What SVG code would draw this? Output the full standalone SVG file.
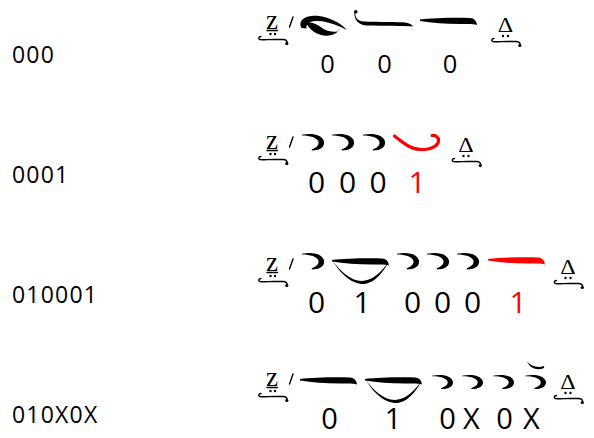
<svg xmlns="http://www.w3.org/2000/svg" xmlns:xlink="http://www.w3.org/1999/xlink" width="594" height="438" viewBox="0 0 594 438">
<style>
.lbl{font-family:"Open Sans","Noto Sans",sans-serif;font-size:23px;letter-spacing:1.2px;fill:#000}
.dg{font-family:"Open Sans","Noto Sans",sans-serif;fill:#000;text-anchor:middle}
.red{fill:#ff0000}
.z{font-family:"Liberation Serif","DejaVu Serif",serif;font-size:27px;fill:#000}
.dl{font-family:"Liberation Serif","DejaVu Serif",serif;font-size:20px;fill:#000;text-anchor:middle}
.ink{fill:#000}
.thin{fill:none;stroke:#000;stroke-width:1.4;stroke-linecap:round}
</style>
<defs>
<path id="curl" class="thin" d="M3,18.5 C0.5,18.5 0,21 2,21.5 C6,22 10,21.5 16,21.5 L25,21.5 C28,21.5 29.5,23 29,25.5"/>
<g id="startmark">
<text class="z" x="8" y="10.5">z</text>
<path class="thin" d="M9,12.5 L19.5,12.5"/>
<circle class="ink" cx="12.5" cy="16" r="1.2"/>
<circle class="ink" cx="17" cy="16" r="1.2"/>
<path class="thin" d="M35,-1 L31.5,9"/>
<use xlink:href="#curl"/>
<circle class="ink" cx="28.8" cy="25.5" r="1.6"/>
</g>
<g id="endmark">
<text class="dl" transform="scale(1.2,1)" x="0" y="12">Δ</text>
<circle class="ink" cx="-2.5" cy="16" r="1.2"/>
<circle class="ink" cx="2.5" cy="16" r="1.2"/>
<use xlink:href="#curl" transform="translate(-14.5,0)"/>
<circle class="ink" cx="14.3" cy="25.5" r="1.6"/>
</g>
<path id="line" d="M0,1 C12,-0.5 35,-1 50,-0.5 C54,-0.2 56.5,2 57,6.5 C53,5 48,5.5 40,5.5 C25,5.5 12,4.5 0,2.5 Z"/>
<path id="hook" d="M0,0.8 C9,-1 20,0 22,7.5 C23,13.5 17,16.5 10,16.5 C9.5,16 9.5,15.5 10.5,15 C14.5,13.5 17,11 16.5,8 C15.5,3.5 8,1.4 0,1.4 Z"/>
<g id="bowl">
<use xlink:href="#line"/>
<path d="M1,2.5 C6,10 15,23 29,25 C42,26 51,13 56,4 C50,11 42,21.5 30,22 C18,22 8,11 1,2.5 Z"/>
</g>
</defs>

<g id="labels">
<text class="lbl" x="12" y="63">000</text>
<text class="lbl" x="12" y="183">0001</text>
<text class="lbl" x="12" y="303">010001</text>
<text class="lbl" x="12" y="423">010X0X</text>
</g>

<g id="row1">
<use xlink:href="#startmark" transform="translate(258,18)"/>
<path class="ink" d="M301.5,28 C297,19 308,14.5 319,16 C331,17.5 341,23.5 347,30 C338,25.5 328,21.5 319,21 C311,20.5 305.5,23 306.5,28.5 Z"/>
<path class="ink" d="M306,23 C310,21.5 316,23.5 320,26.5 C324,30 330,32.5 337,31.5 C339,31 340,29.5 339.5,28.5 C338.5,33 332,36.5 324,35.5 C316,34.5 310,30 306,23 Z"/>
<path class="ink" d="M356,11 C354,17 357,21 364,21.5 C380,22 398,22 405,22.5 C409,23 412,24.5 413,26.5 C404,26 384,26 366,25.5 C359,25 353.5,20 354.5,11.5 Z"/>
<circle class="ink" cx="355.8" cy="11.8" r="1.8"/>
<use xlink:href="#line" transform="translate(420,18.5)"/>
<use xlink:href="#endmark" transform="translate(505.5,20)"/>
<g font-size="25.5">
<text class="dg" x="327.5" y="73">0</text>
<text class="dg" x="384.5" y="73">0</text>
<text class="dg" x="450" y="73">0</text>
</g>
</g>

<g id="row2">
<use xlink:href="#startmark" transform="translate(258,138)"/>
<use xlink:href="#hook" transform="translate(302,134)"/>
<use xlink:href="#hook" transform="translate(332,134)"/>
<use xlink:href="#hook" transform="translate(363,134)"/>
<path d="M394.5,136 C403,142.5 410,149.5 421,149.5 C431,149.5 438.5,146 438.5,140.5 C438.5,137 435.5,135 432,135.5" fill="none" stroke="#ff0000" stroke-width="3.2" stroke-linecap="round"/>
<path class="red" d="M394,135 C402,141 410,148 421,148 L421,151 C410,151 402,143 394,135 Z"/>
<use xlink:href="#endmark" transform="translate(466,140)"/>
<g font-size="30">
<text class="dg" x="316.5" y="193">0</text>
<text class="dg" x="347.5" y="193">0</text>
<text class="dg" x="378" y="193">0</text>
<text class="dg red" x="417" y="193">1</text>
</g>
</g>

<g id="row3">
<use xlink:href="#startmark" transform="translate(258,260)"/>
<use xlink:href="#hook" transform="translate(302,253)"/>
<use xlink:href="#bowl" transform="translate(332,259)"/>
<use xlink:href="#hook" transform="translate(397,253)"/>
<use xlink:href="#hook" transform="translate(427,253)"/>
<use xlink:href="#hook" transform="translate(457,253)"/>
<use xlink:href="#line" class="red" transform="translate(488,258)"/>
<use xlink:href="#endmark" transform="translate(568,262)"/>
<g font-size="30">
<text class="dg" x="316.5" y="313">0</text>
<text class="dg" x="362" y="313">1</text>
<text class="dg" x="412.5" y="313">0</text>
<text class="dg" x="442.5" y="313">0</text>
<text class="dg" x="472.5" y="313">0</text>
<text class="dg red" x="518" y="313">1</text>
</g>
</g>

<g id="row4">
<use xlink:href="#startmark" transform="translate(258,375)"/>
<use xlink:href="#line" transform="translate(300,378)"/>
<use xlink:href="#bowl" transform="translate(365,378)"/>
<use xlink:href="#hook" transform="translate(432,375) scale(0.95,0.85)"/>
<use xlink:href="#hook" transform="translate(462,375) scale(0.95,0.85)"/>
<use xlink:href="#hook" transform="translate(493,375) scale(0.95,0.85)"/>
<use xlink:href="#hook" transform="translate(525,375) scale(0.95,0.85)"/>
<path class="ink" d="M527,361.5 C531,366 537,368.5 544,366 C544.5,367 544,368 543,368.5 C536,370.5 530,368 527,361.5 Z"/>
<use xlink:href="#endmark" transform="translate(568,377)"/>
<g font-size="29">
<text class="dg" x="329.5" y="429">0</text>
<text class="dg" x="393" y="429">1</text>
<text class="dg" x="447.5" y="429">0</text>
<text class="dg" x="471.5" y="429">X</text>
<text class="dg" x="504.5" y="429">0</text>
<text class="dg" x="531.5" y="429">X</text>
</g>
</g>
</svg>
